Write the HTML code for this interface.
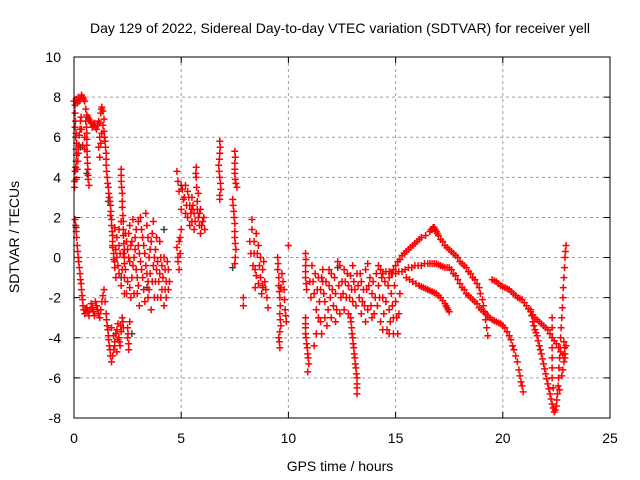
<!DOCTYPE html>
<html><head><meta charset="utf-8"><style>
body{margin:0;background:#fff}
svg{display:block;font-family:"Liberation Sans",sans-serif}
</style></head><body>
<svg id="chart" width="640" height="480" viewBox="0 0 640 480">
<rect x="0" y="0" width="640" height="480" fill="#fff"/>
<text x="340" y="33" text-anchor="middle" font-size="14" fill="#000">Day 129 of 2022, Sidereal Day-to-day VTEC variation (SDTVAR) for receiver yell</text>
<text x="340" y="471" text-anchor="middle" font-size="14" fill="#000">GPS time / hours</text>
<text transform="translate(19,237) rotate(-90)" text-anchor="middle" font-size="14" fill="#000">SDTVAR / TECUs</text>
<g id="grid"></g>
<g id="ticks"></g>
<g id="marks"></g>
<rect x="74" y="57" width="536" height="361" fill="none" stroke="#000" stroke-width="1"/>
</svg>
<script>
const xTicks=[0,5,10,15,20,25];
const yTicks=[-8,-6,-4,-2,0,2,4,6,8,10];
const trackStart=[[0,7.8],[0.05,7.6],[0.1,7.9],[0.15,7.7],[0.2,8.0],[0.25,7.8],[0.3,7.9],[0.35,8.1],[0.4,8.0],[0.45,7.9],[0.5,7.8],[0.55,7.4],[0.6,7.1],[0.7,6.9],[0.8,6.7],[0.9,6.6],[1.0,6.5],[1.1,6.6],[1.2,6.7],[1.25,7.2],[1.3,7.5],[1.35,7.3],[1.4,6.9],[0.65,7.0],[0.75,6.8],[0.85,6.5],[0.95,6.7],[1.05,6.4],[1.15,6.8],[1.28,7.4]];
const trackCol1=[[0.05,7.2],[0.05,6.5],[0.08,6.0],[0.1,5.4],[0.1,4.8],[0.05,4.3],[0.02,3.8],[0.03,3.5],[0.1,3.9],[0.15,4.4],[0.2,5.2],[0.25,6.1],[0.3,6.8],[0.35,6.4],[0.4,5.6],[0.07,6.8],[0.1,6.2],[0.12,5.7],[0.12,5.1],[0.08,4.5],[0.18,4.8],[0.22,5.6],[0.28,6.4],[0.33,7.0]];
const trackCol2=[[0.55,6.8],[0.6,6.2],[0.6,5.6],[0.62,5.0],[0.65,4.4],[0.66,3.9],[0.7,3.6],[0.5,5.4],[0.5,6.0],[0.58,6.5],[0.6,5.9],[0.61,5.3],[0.63,4.7],[0.66,4.1]];
const trackCol3=[[1.4,6.3],[1.45,5.8],[1.5,5.2],[1.5,4.6],[1.55,4.0],[1.6,3.5],[1.65,3.0],[1.7,2.6],[1.7,2.1],[1.75,1.6],[1.8,1.1],[1.8,0.6],[1.2,6.0],[1.15,5.5],[1.2,5.0],[1.85,0.2],[1.9,-0.2],[1.42,6.0],[1.47,5.5],[1.5,4.9],[1.52,4.3],[1.57,3.7],[1.62,3.2],[1.68,2.8],[1.72,2.3],[1.75,1.9],[1.78,1.3],[1.8,0.8],[1.35,6.6],[1.3,6.2],[1.25,5.7]];
const trackLowLeft=[[0.05,1.9],[0.1,1.3],[0.15,0.6],[0.2,0.0],[0.25,-0.5],[0.3,-1.1],[0.35,-1.6],[0.4,-2.1],[0.45,-2.6],[0.5,-2.8],[0.6,-2.5],[0.7,-2.9],[0.8,-2.3],[0.9,-2.7],[1.0,-2.2],[1.1,-2.6],[1.2,-3.0],[1.3,-2.2],[1.4,-1.6],[1.5,-2.8],[1.55,-3.4],[1.6,-3.9],[1.65,-4.4],[1.7,-4.9],[1.75,-5.2],[1.85,-4.6],[1.95,-3.8],[2.05,-3.3],[2.1,-4.0],[2.15,-4.4],[2.2,-3.7],[2.25,-3.0],[2.3,-3.5],[1.9,-4.2],[2.0,-4.7],[0.08,1.6],[0.12,1.0],[0.17,0.3],[0.22,-0.2],[0.28,-0.8],[0.33,-1.3],[0.38,-1.9],[0.42,-2.4],[0.55,-2.6],[0.65,-2.7],[0.75,-2.6],[0.85,-2.5],[0.95,-2.9],[1.05,-2.4],[1.15,-2.8],[1.25,-2.6],[1.35,-1.9],[1.45,-2.2],[1.52,-3.1],[1.58,-3.6],[1.62,-4.1],[1.68,-4.6],[1.8,-4.9],[1.9,-4.4],[2.0,-3.6],[2.12,-4.2],[2.18,-3.4],[2.28,-3.2],[1.75,-3.5],[1.85,-3.9],[2.05,-4.1]];
const trackSpike=[[2.2,4.4],[2.2,3.8],[2.25,3.2],[2.25,2.5],[2.3,1.8],[2.3,1.1],[2.35,0.4],[2.35,-0.3],[2.5,-3.5],[2.5,-4.0],[2.55,-4.6],[2.6,-3.2],[2.2,4.1],[2.22,3.5],[2.25,2.8],[2.28,2.1],[2.3,1.4],[2.33,0.7],[2.35,0.0],[2.52,-3.8],[2.55,-4.3]];
const blobLeft=[[1.8,0.5],[1.9,-0.5],[2.0,1.0],[2.0,0.0],[2.1,-0.8],[2.1,0.6],[2.2,-1.4],[2.3,0.2],[2.4,-0.6],[2.4,1.2],[2.5,-1.2],[2.5,0.4],[2.6,1.6],[2.6,-0.2],[2.7,-1.0],[2.7,0.8],[2.8,-1.8],[2.8,0.0],[2.9,1.4],[2.9,-0.6],[3.0,0.6],[3.0,-1.4],[3.1,2.0],[3.1,-0.2],[3.2,-1.0],[3.2,1.0],[3.3,-2.2],[3.3,0.2],[3.4,1.6],[3.4,-0.8],[3.5,0.0],[3.5,-1.6],[3.6,0.8],[3.6,-2.6],[3.7,-0.4],[3.7,1.8],[3.8,-1.2],[3.8,0.4],[3.9,-2.0],[3.9,-0.2],[4.0,-0.8],[4.0,0.8],[4.1,-1.6],[4.1,-0.4],[4.2,-2.4],[4.2,0.0],[4.3,-1.2],[4.3,-2.0],[4.4,-0.6],[4.4,-1.6],[2.2,1.8],[2.75,1.9],[3.35,2.2],[2.45,-1.8],[3.05,-2.4],[3.55,-0.8],[2.65,-2.0],[1.95,-1.0],
[1.85,-0.1],[1.95,0.4],[2.05,-0.4],[2.15,0.2],[2.25,-0.6],[2.35,-1.0],[2.45,0.8],[2.55,0.0],[2.65,0.6],[2.75,-0.4],[2.85,0.4],[2.95,-1.0],[3.05,0.2],[3.15,-0.6],[3.25,0.6],[3.35,-0.4],[3.45,-1.2],[3.55,0.4],[3.65,-1.2],[3.75,0.0],[3.85,-0.6],[3.95,-1.2],[4.05,0.0],[4.15,-1.0],[4.25,-0.6],[4.35,-0.2],[4.45,-1.2],[2.55,1.2],[2.85,1.0],[3.15,1.4],[3.45,1.0],[3.65,1.2],[3.25,-1.6],[2.95,-1.8],[3.75,-2.0],[4.05,-2.0],[2.35,-1.8],[3.45,-2.0],[3.85,1.0],[3.0,1.8],[2.6,-1.5],[4.25,-1.6],[1.9,1.5],[2.1,1.4]];
const blobMid=[[4.8,4.3],[4.85,3.8],[4.9,3.3],[4.9,0.8],[4.85,-0.2],[4.9,-0.6],[5.0,1.4],[5.0,2.4],[5.1,2.9],[5.2,2.2],[5.3,3.3],[5.4,2.6],[5.5,1.8],[5.5,3.0],[5.6,2.2],[5.6,1.4],[5.7,4.5],[5.7,4.0],[5.72,3.5],[5.75,2.8],[5.8,2.0],[5.85,1.6],[5.9,2.4],[5.9,1.2],[6.0,1.8],[6.1,1.4],[5.2,3.6],[5.4,1.6],[4.95,0.2],[4.8,0.5],[4.85,0.0],[4.95,1.0],[5.05,3.4],[5.15,3.0],[5.25,2.6],[5.35,3.0],[5.45,2.2],[5.55,2.6],[5.65,1.8],[5.75,2.4],[5.8,3.2],[5.85,2.2],[5.95,1.6],[6.05,2.0],[5.3,2.0],[5.5,2.4],[5.68,4.2]];
const trackMid2=[[6.8,5.8],[6.8,5.2],[6.75,4.6],[6.8,4.0],[6.85,3.4],[6.8,2.9],[7.5,5.3],[7.5,4.7],[7.5,4.2],[7.55,3.7],[7.4,2.9],[7.45,2.3],[7.5,1.7],[7.5,1.0],[7.55,0.4],[7.5,-0.3],[7.9,-2.0],[7.9,-2.4],[6.82,5.5],[6.78,4.9],[6.77,4.3],[6.83,3.7],[6.8,3.1],[7.52,5.0],[7.5,4.4],[7.52,3.9],[7.42,2.6],[7.47,2.0],[7.5,1.3],[7.52,0.7],[7.52,0.0],[7.6,3.5]];
const blobB=[[8.2,0.8],[8.3,1.9],[8.35,-0.4],[8.4,0.2],[8.5,1.2],[8.5,-0.9],[8.6,0.6],[8.6,-1.3],[8.7,0.0],[8.75,-1.8],[8.8,-0.6],[8.9,-1.2],[9.0,-2.0],[9.05,-2.5],[8.45,-1.5],[9.5,0.0],[9.5,-0.6],[9.55,-1.4],[9.6,-2.0],[9.6,-2.8],[9.65,-3.4],[9.55,-4.0],[9.6,-4.5],[9.8,-1.6],[9.85,-2.6],[9.9,-3.2],[10.0,0.6],[9.7,-0.8],[8.25,0.2],[8.3,1.4],[8.4,0.8],[8.45,-0.6],[8.55,0.2],[8.65,-0.4],[8.7,-1.0],[8.8,-1.4],[8.85,-0.2],[8.95,-1.6],[9.52,-0.3],[9.55,-1.0],[9.58,-1.7],[9.62,-2.4],[9.62,-3.1],[9.6,-3.7],[9.58,-4.2],[9.75,-1.2],[9.82,-2.1],[9.88,-2.9],[9.65,-1.5]];
const trackC=[[10.8,0.2],[10.8,-0.4],[10.8,-1.0],[10.85,-1.6],[10.8,-3.0],[10.8,-3.5],[10.8,-3.8],[10.85,-4.3],[10.9,-4.8],[10.95,-5.3],[10.9,-5.7],[10.82,-0.1],[10.8,-0.7],[10.83,-1.3],[10.8,-3.3],[10.82,-4.0],[10.88,-4.5],[10.92,-5.0]];
const blobC=[[11.0,-1.2],[11.1,-0.4],[11.2,-1.8],[11.3,-2.6],[11.4,-1.0],[11.5,-3.2],[11.5,-1.6],[11.6,-0.6],[11.7,-2.2],[11.8,-3.4],[11.9,-1.4],[12.0,-0.8],[12.1,-2.4],[12.2,-1.8],[12.3,-0.2],[12.4,-2.8],[12.5,-1.2],[12.6,-0.6],[12.7,-2.0],[12.8,-1.4],[12.9,-0.9],[13.0,-2.2],[13.1,-1.6],[13.2,-0.8],[13.3,-2.0],[13.4,-1.2],[13.5,-1.6],[13.6,-0.6],[13.7,-2.6],[13.8,-1.0],[13.9,-1.8],[14.0,-2.8],[14.1,-0.8],[14.2,-1.4],[14.3,-3.2],[14.4,-2.0],[14.5,-1.2],[14.6,-3.6],[14.7,-2.6],[14.8,-1.8],[14.9,-3.0],[15.0,-2.2],[15.1,-3.8],[11.3,-3.8],[11.2,-4.4],[12.0,-3.0],[13.6,-3.2],[14.2,-0.4],[11.6,-1.2],[12.6,-2.6],
[11.05,-2.0],[11.15,-1.2],[11.25,-0.8],[11.35,-1.6],[11.45,-2.2],[11.55,-1.0],[11.65,-1.8],[11.75,-1.2],[11.85,-2.6],[11.95,-2.0],[12.05,-1.6],[12.15,-1.0],[12.25,-2.6],[12.35,-1.4],[12.45,-2.0],[12.55,-1.8],[12.65,-1.2],[12.75,-0.8],[12.85,-2.0],[12.95,-1.6],[13.05,-1.2],[13.15,-2.4],[13.25,-1.4],[13.35,-0.8],[13.45,-2.2],[13.55,-2.4],[13.65,-1.6],[13.75,-1.4],[13.85,-2.4],[13.95,-1.2],[14.05,-2.0],[14.15,-2.4],[14.25,-2.0],[14.35,-1.0],[14.45,-2.8],[14.55,-2.2],[14.65,-1.4],[14.75,-3.2],[14.85,-2.4],[14.95,-1.4],[15.05,-3.0],[15.15,-2.8],[15.2,-1.8],[11.4,-3.0],[11.7,-3.0],[12.2,-3.2],[12.8,-2.8],[13.4,-2.8],[13.9,-3.0],[14.4,-3.6],[11.9,-0.6],[12.4,-0.4],[13.0,-0.4],[13.7,-0.3],[14.3,-0.6],[11.55,-3.8],[14.7,-3.8],[14.9,-3.8]];
const trackD=[[12.9,-3.0],[12.95,-3.5],[13.0,-4.0],[13.05,-4.5],[13.1,-5.0],[13.15,-5.5],[13.2,-6.0],[13.2,-6.5],[13.2,-6.8],[12.92,-3.2],[12.97,-3.8],[13.02,-4.3],[13.07,-4.8],[13.12,-5.3],[13.17,-5.8],[13.2,-6.3]];
const arcA1=[[14.7,-1.0],[14.9,-0.6],[15.1,-0.2],[15.3,0.1],[15.5,0.3],[15.7,0.5],[15.9,0.7],[16.1,0.9],[16.6,1.3],[16.7,1.4],[16.8,1.5],[16.9,1.3],[17.0,1.1],[17.2,0.8],[17.4,0.5],[17.6,0.3],[17.8,0.1],[18.0,-0.2],[18.2,-0.4],[18.4,-0.7],[18.6,-1.0],[18.8,-1.3],[18.95,-1.8],[19.1,-2.4],[19.2,-3.1],[19.3,-3.9],
[14.8,-0.8],[15.0,-0.4],[15.2,-0.1],[15.4,0.2],[15.6,0.4],[15.8,0.6],[16.0,0.8],[16.2,1.0],[16.4,1.1],[16.65,1.4],[16.75,1.5],[16.85,1.4],[16.95,1.2],[17.1,0.9],[17.3,0.6],[17.5,0.4],[17.7,0.2],[17.9,0.0],[18.1,-0.3],[18.3,-0.5],[18.5,-0.8],[18.7,-1.1],[18.9,-1.5],[19.05,-2.1],[19.15,-2.7],[19.25,-3.5]];
const arcA2=[[14.4,-0.8],[14.7,-0.7],[15.0,-0.8],[15.3,-0.7],[15.6,-0.5],[15.9,-0.4],[16.2,-0.4],[16.5,-0.3],[16.7,-0.3],[16.9,-0.3],[17.1,-0.4],[17.3,-0.5],[17.5,-0.5],[17.7,-0.8],[17.9,-1.1],[18.1,-1.5],[18.3,-1.8],[18.5,-2.0],[18.7,-2.2],[18.9,-2.5],[19.1,-2.7],[19.3,-2.9],[19.5,-3.1],[19.7,-3.2],[19.9,-3.3],[20.1,-3.5],[20.3,-3.9],[20.45,-4.4],[20.6,-4.9],[20.75,-5.6],[20.85,-6.2],[20.95,-6.7],
[14.55,-0.7],[14.85,-0.8],[15.15,-0.7],[15.45,-0.6],[15.75,-0.5],[16.05,-0.4],[16.35,-0.3],[16.6,-0.3],[16.8,-0.3],[17.0,-0.35],[17.2,-0.45],[17.4,-0.5],[17.6,-0.6],[17.8,-0.9],[18.0,-1.3],[18.2,-1.6],[18.4,-1.9],[18.6,-2.1],[18.8,-2.3],[19.0,-2.6],[19.2,-2.8],[19.4,-3.0],[19.6,-3.15],[19.8,-3.25],[20.0,-3.4],[20.2,-3.7],[20.38,-4.1],[20.52,-4.6],[20.68,-5.2],[20.8,-5.9],[20.9,-6.4]];
const arcA3=[[15.5,-1.0],[15.8,-1.2],[16.1,-1.4],[16.3,-1.5],[16.5,-1.6],[16.7,-1.7],[16.9,-1.8],[17.1,-2.0],[17.3,-2.3],[17.4,-2.5],[17.5,-2.7],[15.65,-1.1],[15.95,-1.3],[16.2,-1.45],[16.4,-1.55],[16.6,-1.65],[16.8,-1.75],[17.0,-1.9],[17.2,-2.15],[17.35,-2.4],[17.45,-2.6]];
const arcA4=[[19.5,-1.1],[19.7,-1.2],[19.9,-1.4],[20.1,-1.5],[20.3,-1.6],[20.5,-1.8],[20.7,-2.0],[20.9,-2.1],[21.1,-2.4],[21.3,-2.7],[21.5,-3.0],[21.7,-3.2],[21.9,-3.4],[22.1,-3.6],[22.3,-4.0],[22.5,-4.3],[22.7,-4.7],[22.9,-5.0],[19.6,-1.15],[19.8,-1.3],[20.0,-1.45],[20.2,-1.55],[20.4,-1.7],[20.6,-1.9],[20.8,-2.05],[21.0,-2.25],[21.2,-2.55],[21.4,-2.85],[21.6,-3.1],[21.8,-3.3],[22.0,-3.5],[22.2,-3.8],[22.4,-4.15],[22.6,-4.5],[22.8,-4.85]];
const arcA5=[[21.3,-2.6],[21.4,-3.2],[21.5,-3.6],[21.6,-3.9],[21.7,-4.4],[21.8,-4.8],[21.9,-5.3],[22.0,-5.8],[22.1,-6.3],[22.2,-6.8],[22.3,-7.3],[22.4,-7.7],[22.5,-7.4],[22.55,-6.8],[22.6,-6.0],[22.65,-5.0],[22.7,-4.0],[22.75,-3.0],[22.8,-2.0],[22.85,-1.0],[22.9,0.0],[22.95,0.6],[22.3,-3.0],[22.3,-4.0],[22.3,-5.0],[22.3,-6.0],[22.85,-4.2],[22.9,-4.8],[22.8,-5.6],
[21.35,-2.9],[21.45,-3.4],[21.55,-3.75],[21.65,-4.15],[21.75,-4.6],[21.85,-5.05],[21.95,-5.55],[22.05,-6.05],[22.15,-6.55],[22.25,-7.05],[22.35,-7.5],[22.45,-7.6],[22.52,-7.1],[22.58,-6.4],[22.62,-5.5],[22.68,-4.5],[22.72,-3.5],[22.78,-2.5],[22.82,-1.5],[22.88,-0.5],[22.92,0.3],[22.3,-3.5],[22.3,-4.5],[22.3,-5.5],[22.35,-6.5],[22.88,-4.5],[22.85,-5.2],[22.75,-5.9],[22.95,-4.4],[22.65,-6.6]];
const grayPts=[[0.1,1.5],[0.3,5.5],[1.6,2.8],[2.2,-1.0],[3.4,-1.5],[4.2,1.4],[5.0,3.6],[7.4,-0.5],[8.8,-1.5],[12.3,-0.5],[0.6,4.2],[2.7,-3.8]];
const tracks=[trackStart,trackCol1,trackCol2,trackCol3,trackLowLeft,trackSpike,blobLeft,blobMid,trackMid2,blobB,trackC,blobC,trackD,arcA1,arcA2,arcA3,arcA4,arcA5];

const X0=74,X1=610,Y0=418,Y1=57,xmin=0,xmax=25,ymin=-8,ymax=10;
const sx=t=>X0+(t-xmin)/(xmax-xmin)*(X1-X0);
const sy=v=>Y0-(v-ymin)/(ymax-ymin)*(Y0-Y1);
const NS='http://www.w3.org/2000/svg';
const grid=document.getElementById('grid'),ticks=document.getElementById('ticks'),marks=document.getElementById('marks');
xTicks.forEach(t=>{
  const x=sx(t);
  if(t>xmin&&t<xmax){const l=document.createElementNS(NS,'line');
  l.setAttribute('x1',x);l.setAttribute('x2',x);l.setAttribute('y1',Y1);l.setAttribute('y2',Y0);
  l.setAttribute('stroke','#a0a0a0');l.setAttribute('stroke-dasharray','3,3');
  
  
  grid.appendChild(l);}
  const tk=document.createElementNS(NS,'path');
  tk.setAttribute('d',`M${x},${Y0}v-6M${x},${Y1}v6`);tk.setAttribute('stroke','#000');
  
  
  ticks.appendChild(tk);
  const tx=document.createElementNS(NS,'text');
  tx.setAttribute('x',x);tx.setAttribute('y',443);tx.setAttribute('text-anchor','middle');tx.setAttribute('font-size','14');
  tx.textContent=t;
  
  
  ticks.appendChild(tx);
});
yTicks.forEach(v=>{
  const y=sy(v);
  if(v>ymin&&v<ymax){const l=document.createElementNS(NS,'line');
  l.setAttribute('x1',X0);l.setAttribute('x2',X1);l.setAttribute('y1',y);l.setAttribute('y2',y);
  l.setAttribute('stroke','#a0a0a0');l.setAttribute('stroke-dasharray','3,3');
  
  
  grid.appendChild(l);}
  const tk=document.createElementNS(NS,'path');
  tk.setAttribute('d',`M${X0},${y}h6M${X1},${y}h-6`);tk.setAttribute('stroke','#000');
  
  
  ticks.appendChild(tk);
  const tx=document.createElementNS(NS,'text');
  tx.setAttribute('x',61);tx.setAttribute('y',y+5);tx.setAttribute('text-anchor','end');tx.setAttribute('font-size','14');
  tx.textContent=v;
  
  
  ticks.appendChild(tx);
});
function plus(pts,color,name){
  let d='';
  pts.forEach(([t,v])=>{const x=sx(t),y=sy(v);d+=`M${x-3.5},${y}h7M${x},${y-3.5}v7`;});
  const p=document.createElementNS(NS,'path');
  p.setAttribute('d',d);p.setAttribute('stroke',color);p.setAttribute('stroke-width','1.5');p.setAttribute('fill','none');
  
  
  marks.appendChild(p);
}
plus(grayPts,'#404040','gray-series');
tracks.forEach(tr=>plus(tr,'#ff0000','sdtvar-series'));
</script>
</body></html>
